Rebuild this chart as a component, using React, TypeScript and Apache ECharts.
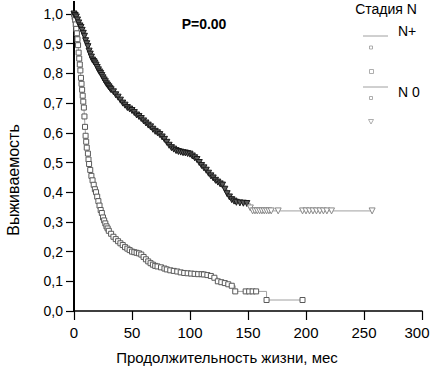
import React, { useEffect, useRef } from "react";
import * as echarts from "echarts";

// N+ group (lower curve, censored marks: squares)
const nPlusTime = [0, 0.5, 1, 1.5, 2, 2.5, 3, 3.5, 4, 4.5, 5, 5.5, 6, 6.5, 7, 7.5, 8, 8.5, 9, 9.5, 10, 10.5, 11, 12, 12.5, 13, 14, 15, 16, 17, 18, 19, 20, 21, 22, 23, 24, 25, 26, 27, 28, 29, 30, 32, 34, 36, 38, 40, 42, 44, 46, 48, 50, 52, 54, 56, 58, 60, 62, 64, 66, 68, 70, 72, 75, 78, 80, 83, 86, 89, 92, 95, 98, 101, 104, 107, 110, 112, 115, 118, 121, 124, 127, 130, 133, 136, 139, 148, 151, 154, 157, 166, 197];
const nPlusSurv = [1.0, 0.99, 0.98, 0.965, 0.95, 0.935, 0.915, 0.895, 0.87, 0.85, 0.83, 0.81, 0.785, 0.765, 0.745, 0.725, 0.705, 0.685, 0.655, 0.62, 0.59, 0.57, 0.55, 0.53, 0.51, 0.495, 0.475, 0.455, 0.44, 0.425, 0.41, 0.4, 0.385, 0.37, 0.355, 0.34, 0.33, 0.315, 0.305, 0.295, 0.285, 0.278, 0.27, 0.26, 0.25, 0.242, 0.235, 0.228, 0.222, 0.215, 0.21, 0.205, 0.2, 0.198, 0.196, 0.194, 0.19, 0.182, 0.174, 0.167, 0.161, 0.156, 0.152, 0.15, 0.147, 0.143, 0.14, 0.137, 0.135, 0.133, 0.13, 0.128, 0.127, 0.126, 0.125, 0.124, 0.124, 0.123, 0.121, 0.118, 0.112, 0.1, 0.097, 0.094, 0.09, 0.085, 0.066, 0.066, 0.066, 0.066, 0.066, 0.037, 0.037];

// N 0 group (upper curve, censored marks: triangles)
const n0Time = [0, 1, 2, 3, 4, 5, 6, 7, 8, 9, 10, 11, 12, 13, 14, 15, 16, 17, 18, 19, 20, 21, 22, 23, 24, 25, 26, 27, 28, 29, 30, 31, 32, 34, 36, 38, 40, 42, 44, 46, 48, 50, 52, 54, 56, 58, 60, 62, 64, 66, 68, 70, 72, 74, 76, 78, 80, 82, 84, 86, 88, 90, 92, 94, 96, 98, 100, 102, 104, 106, 108, 110, 112, 114, 116, 118, 120, 122, 124, 126, 128, 130, 132, 134, 136, 138, 140, 143, 146, 149, 152, 154, 156, 158, 160, 162, 164, 166, 168, 170, 176, 197, 200, 203, 206, 209, 212, 215, 218, 222, 257];
const n0Surv = [1.0, 0.995, 0.99, 0.98, 0.97, 0.96, 0.955, 0.945, 0.935, 0.925, 0.91, 0.9, 0.89, 0.875, 0.865, 0.855, 0.845, 0.84, 0.835, 0.828, 0.82, 0.812, 0.805, 0.8, 0.793, 0.785, 0.778, 0.772, 0.765, 0.76, 0.755, 0.75, 0.745, 0.738, 0.728, 0.72, 0.71, 0.7, 0.693, 0.685, 0.68, 0.675, 0.668, 0.66, 0.655, 0.648, 0.64, 0.633, 0.626, 0.62, 0.612, 0.605, 0.6, 0.594, 0.586, 0.578, 0.568, 0.558, 0.55, 0.545, 0.54, 0.537, 0.535, 0.533, 0.532, 0.53, 0.528, 0.522, 0.516, 0.51, 0.5, 0.49, 0.482, 0.474, 0.464, 0.455, 0.448, 0.44, 0.434, 0.428, 0.424, 0.41, 0.395, 0.384, 0.375, 0.37, 0.366, 0.364, 0.363, 0.362, 0.347, 0.337, 0.337, 0.337, 0.337, 0.337, 0.337, 0.337, 0.337, 0.337, 0.337, 0.337, 0.337, 0.337, 0.337, 0.337, 0.337, 0.337, 0.337, 0.337, 0.337];

const xTicks = { min: 0, max: 300, interval: 50 };
const yTicks = { min: 0, max: 1, interval: 0.1 };

const titleText = "P=0.00";
const legendTitle = "Стадия N";
const groupNames = ["N+", "N 0"];
const xName = "Продолжительность жизни, мес";
const yName = "Выживаемость";

const FONT = "'Liberation Sans', Arial, sans-serif";

export default function App() {
  const ref = useRef<HTMLDivElement>(null);
  useEffect(() => {
    if (!ref.current) return;
    const chart = echarts.init(ref.current, undefined, { renderer: "svg" });
    const lineGray = "#a0a0a0";
    const lightTri = { color: "#ffffff", borderColor: "#8a8a8a", borderWidth: 1 };
    chart.setOption({
      animation: false,
      backgroundColor: "#ffffff",
      grid: { left: 74, right: 8, top: 14, bottom: 55, containLabel: false, outerBoundsMode: "none" },
      xAxis: {
        type: "value",
        min: xTicks.min,
        max: xTicks.max,
        interval: xTicks.interval,
        axisLine: { show: true, lineStyle: { color: "#000", width: 1.5 } },
        axisTick: { show: true, length: 9, lineStyle: { color: "#000", width: 1.2 } },
        axisLabel: {
          color: "#000",
          fontSize: 15,
          fontFamily: FONT,
          margin: 14,
          formatter: (v: number) => (v === xTicks.max ? `{r|${v}}` : `${v}`),
          rich: { r: { fontSize: 15, fontFamily: FONT, color: "#000", padding: [0, 10, 0, 0] } },
        },
        splitLine: { show: false },
      },
      yAxis: {
        type: "value",
        min: yTicks.min,
        max: yTicks.max,
        interval: yTicks.interval,
        axisLine: { show: true, lineStyle: { color: "#000", width: 2 } },
        axisTick: { show: true, length: 8, lineStyle: { color: "#000", width: 1.2 } },
        axisLabel: {
          color: "#000",
          fontSize: 14,
          fontFamily: FONT,
          margin: 11,
          formatter: (v: number) => v.toFixed(1).replace(".", ","),
        },
        splitLine: { show: false },
      },
      series: [
        {
          name: groupNames[0],
          type: "line",
          step: "end",
          data: nPlusTime.map((t, i) => [t, nPlusSurv[i]]),
          showSymbol: true,
          showAllSymbol: true,
          symbol: "rect",
          symbolSize: 5,
          lineStyle: { color: lineGray, width: 1 },
          itemStyle: { color: "#ffffff", borderColor: "#5a5a5a", borderWidth: 1 },
          z: 3,
        },
        {
          name: groupNames[1],
          type: "line",
          step: "end",
          data: n0Time.map((t, i) =>
            t >= 150 ? { value: [t, n0Surv[i]], itemStyle: lightTri } : [t, n0Surv[i]]
          ),
          showSymbol: true,
          showAllSymbol: true,
          symbol: "triangle",
          symbolRotate: 180,
          symbolSize: 6,
          lineStyle: { color: lineGray, width: 1 },
          itemStyle: { color: "#5a5a5a", borderColor: "#1a1a1a", borderWidth: 1 },
          z: 3,
        },
      ],
      graphic: [
        { type: "line", shape: { x1: 74, y1: 1, x2: 74, y2: 14 }, style: { stroke: "#000", lineWidth: 2 } },
        { type: "text", x: 204, y: 24, style: { text: titleText, font: `bold 14px ${FONT}`, fill: "#000", align: "center", verticalAlign: "middle" } },
        { type: "text", x: 386, y: 9, style: { text: legendTitle, font: `14px ${FONT}`, fill: "#000", align: "center", verticalAlign: "middle" } },
        { type: "text", x: 398, y: 31, style: { text: groupNames[0], font: `14px ${FONT}`, fill: "#000", align: "left", verticalAlign: "middle" } },
        { type: "line", shape: { x1: 363, y1: 36, x2: 388, y2: 36 }, style: { stroke: lineGray, lineWidth: 1 } },
        { type: "rect", shape: { x: 369.5, y: 46, width: 3, height: 3 }, style: { fill: "#fff", stroke: "#999", lineWidth: 0.8 } },
        { type: "rect", shape: { x: 369.5, y: 69.5, width: 4, height: 4 }, style: { fill: "#fff", stroke: "#999", lineWidth: 0.8 } },
        { type: "line", shape: { x1: 363, y1: 87, x2: 388, y2: 87 }, style: { stroke: lineGray, lineWidth: 1 } },
        { type: "text", x: 398, y: 92, style: { text: groupNames[1], font: `14px ${FONT}`, fill: "#000", align: "left", verticalAlign: "middle" } },
        { type: "rect", shape: { x: 369.5, y: 96.5, width: 3, height: 3 }, style: { fill: "#fff", stroke: "#999", lineWidth: 0.8 } },
        { type: "polygon", shape: { points: [[368.5, 119.5], [373.5, 119.5], [371, 124]] }, style: { fill: "#fff", stroke: "#999", lineWidth: 0.8 } },
        { type: "text", x: 227, y: 357, style: { text: xName, font: `15px ${FONT}`, fill: "#000", align: "center", verticalAlign: "middle" } },
        { type: "text", x: 13, y: 180, rotation: Math.PI / 2, style: { text: yName, font: `16px ${FONT}`, fill: "#000", align: "center", verticalAlign: "middle" } },
      ],
    });
    return () => chart.dispose();
  }, []);
  return <div ref={ref} style={{ position: "fixed", left: 0, top: 0, width: 430, height: 366 }} />;
}
